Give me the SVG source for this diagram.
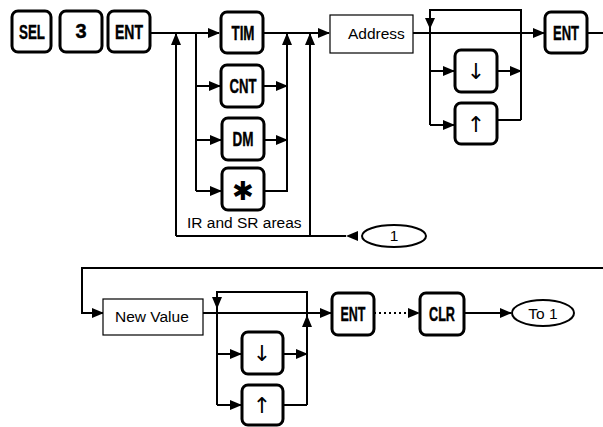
<svg xmlns="http://www.w3.org/2000/svg" width="603" height="427" viewBox="0 0 603 427">
<style>
.key{fill:#fff;stroke:#000;stroke-width:3;}
.kt{font-family:"Liberation Sans",Arial,sans-serif;font-weight:bold;font-size:20px;text-anchor:middle;fill:#000;stroke:#000;stroke-width:0.4;}
.arr{font-family:"DejaVu Sans",sans-serif;font-size:22px;text-anchor:middle;fill:#000;}
.box{fill:#fff;stroke:#000;stroke-width:1.2;}
.lbl{font-family:"Liberation Sans",Arial,sans-serif;font-size:15.5px;fill:#000;}
.ln{fill:none;stroke:#000;stroke-width:2;}
.ah{marker-end:url(#ah);}
.dot{stroke-dasharray:2 3;}
</style>
<defs>
<marker id="ah" markerUnits="userSpaceOnUse" markerWidth="12" markerHeight="10" refX="11" refY="5" orient="auto">
<path d="M0,0 L12,5 L0,10 Z" fill="#000"/>
</marker>
</defs>

<g id="connectors">
<path class="ln ah" d="M150,33 H219"/>
<path class="ln" d="M196,33 V191"/>
<path class="ln ah" d="M196,86 H220"/>
<path class="ln ah" d="M196,140 H221"/>
<path class="ln ah" d="M196,191 H221"/>
<path class="ln ah" d="M263,33 H329"/>
<path class="ln ah" d="M263,86 H287"/>
<path class="ln ah" d="M264,140 H287"/>
<path class="ln ah" d="M264,191 H287 V34"/>
<path class="ln" d="M346,236 H176"/>
<path d="M346,236 L358,231 L358,241 Z" fill="#000"/>
<path class="ln ah" d="M176,236 V34"/>
<path class="ln ah" d="M310,236 V34"/>
<path class="ln ah" d="M413,33 H544"/>
<path class="ln" d="M430,125 V10 H521 V120"/>
<path d="M430,29 L425,18 L435,18 Z" fill="#000"/>
<path class="ln ah" d="M430,71 H454"/>
<path class="ln ah" d="M430,125 H454"/>
<path class="ln ah" d="M497,71 H521"/>
<path class="ln" d="M497,120 H521"/>
<path class="ln" d="M587,33 H603"/>
<path class="ln ah" d="M603,268 H82 V313 H103"/>
<path class="ln ah" d="M203,313 H331"/>
<path class="ln" d="M217,405 V292 H307 V405"/>
<path d="M217,309 L212,297 L222,297 Z" fill="#000"/>
<path d="M307,315 L302,327 L312,327 Z" fill="#000"/>
<path class="ln ah" d="M217,354 H241"/>
<path class="ln ah" d="M217,405 H241"/>
<path class="ln ah" d="M283,354 H307"/>
<path class="ln" d="M283,405 H307"/>
<path class="ln ah dot" d="M374,313 H419"/>
<path class="ln ah" d="M464,313 H511"/>
</g>

<g id="key-sel"><rect class="key" x="12" y="11" width="39" height="41" rx="6"/><text class="kt" x="32" y="39" textLength="26" lengthAdjust="spacingAndGlyphs">SEL</text></g>
<g id="key-3"><rect class="key" x="60" y="11" width="42" height="41" rx="6"/><text class="kt" x="81" y="38" font-size="18">3</text></g>
<g id="key-ent1"><rect class="key" x="108" y="11" width="42" height="41" rx="6"/><text class="kt" x="129" y="39" textLength="28" lengthAdjust="spacingAndGlyphs">ENT</text></g>
<g id="key-tim"><rect class="key" x="221" y="12" width="42" height="41" rx="6"/><text class="kt" x="243" y="40" textLength="23" lengthAdjust="spacingAndGlyphs">TIM</text></g>
<g id="key-cnt"><rect class="key" x="221" y="65" width="42" height="42" rx="6"/><text class="kt" x="243" y="93" textLength="27" lengthAdjust="spacingAndGlyphs">CNT</text></g>
<g id="key-dm"><rect class="key" x="222" y="118" width="42" height="42" rx="6"/><text class="kt" x="243" y="146" textLength="21" lengthAdjust="spacingAndGlyphs">DM</text></g>
<g id="key-star"><rect class="key" x="222" y="168" width="42" height="42" rx="6"/><text x="243" y="200" font-family="DejaVu Sans,sans-serif" font-size="26" text-anchor="middle">✱</text></g>
<g id="label-ir"><text class="lbl" x="187" y="228" font-size="14.5">IR and SR areas</text></g>
<g id="oval-1"><ellipse cx="394" cy="236" rx="32" ry="11" fill="#fff" stroke="#000" stroke-width="2"/><text class="lbl" x="394" y="241" font-size="15" text-anchor="middle">1</text></g>
<g id="address"><rect class="box" x="330" y="15" width="83" height="38"/><text class="lbl" x="348" y="39">Address</text></g>
<g id="key-down1"><rect class="key" x="455" y="50" width="42" height="42" rx="6"/><text class="arr" x="476" y="79">↓</text></g>
<g id="key-up1"><rect class="key" x="455" y="103" width="42" height="41" rx="6"/><text class="arr" x="476" y="132">↑</text></g>
<g id="key-ent2"><rect class="key" x="545" y="12" width="42" height="41" rx="6"/><text class="kt" x="566" y="40" textLength="26" lengthAdjust="spacingAndGlyphs">ENT</text></g>

<g id="new-value"><rect class="box" x="103" y="299" width="100" height="36"/><text class="lbl" x="115" y="322">New Value</text></g>
<g id="key-down2"><rect class="key" x="242" y="332" width="41" height="42" rx="6"/><text class="arr" x="262" y="361">↓</text></g>
<g id="key-up2"><rect class="key" x="242" y="385" width="41" height="40" rx="6"/><text class="arr" x="262" y="413">↑</text></g>
<g id="key-ent3"><rect class="key" x="332" y="293" width="42" height="42" rx="6"/><text class="kt" x="353" y="321" textLength="25" lengthAdjust="spacingAndGlyphs">ENT</text></g>
<g id="key-clr"><rect class="key" x="420" y="293" width="44" height="42" rx="6"/><text class="kt" x="442" y="321" textLength="26" lengthAdjust="spacingAndGlyphs">CLR</text></g>
<g id="oval-to1"><ellipse cx="543" cy="313" rx="31" ry="13" fill="#fff" stroke="#000" stroke-width="2"/><text class="lbl" x="543" y="319" font-size="16" text-anchor="middle">To 1</text></g>
</svg>
